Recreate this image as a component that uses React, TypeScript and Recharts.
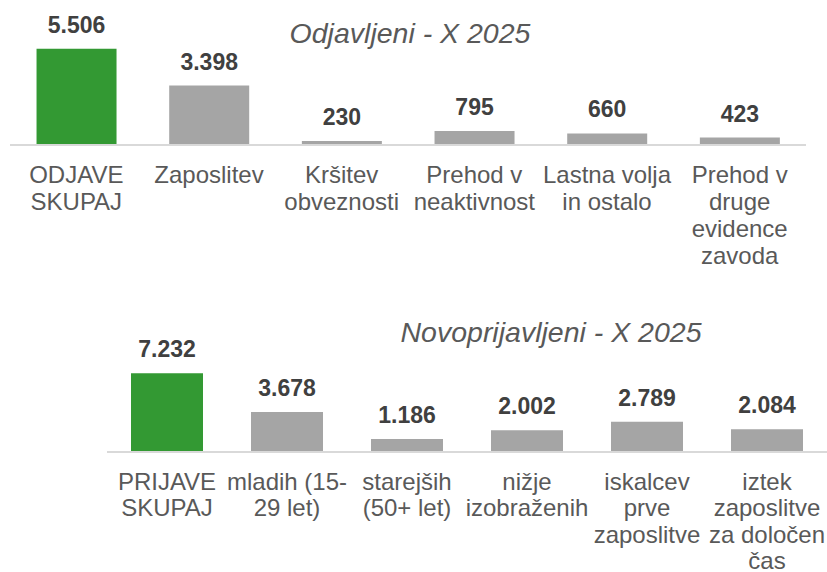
import React from 'react'
import { BarChart, Bar, XAxis, YAxis, Cell, LabelList } from 'recharts'

const odjaveCategories = [
  'ODJAVE\nSKUPAJ',
  'Zaposlitev',
  'Kršitev\nobveznosti',
  'Prehod v\nneaktivnost',
  'Lastna volja\nin ostalo',
  'Prehod v\ndruge\nevidence\nzavoda',
]
const odjaveValues = [5506, 3398, 230, 795, 660, 423]

const prijaveCategories = [
  'PRIJAVE\nSKUPAJ',
  'mladih (15-\n29 let)',
  'starejših\n(50+ let)',
  'nižje\nizobraženih',
  'iskalcev\nprve\nzaposlitve',
  'iztek\nzaposlitve\nza določen\nčas',
]
const prijaveValues = [7232, 3678, 1186, 2002, 2789, 2084]

const FONT = '"Liberation Sans", Arial, sans-serif'
const GREEN = '#339933'
const GRAY = '#A5A5A5'

const fmt = (v: any) => String(v).replace(/\B(?=(\d{3})+(?!\d))/g, '.')

function CategoryTick(props: any) {
  const { x, y, payload, first = 38, step = 27 } = props
  const lines = String(payload.value).split('\n')
  return (
    <text x={x} y={y} textAnchor="middle" fill="#595959" fontSize={24} fontFamily={FONT}>
      {lines.map((l, i) => (
        <tspan key={i} x={x} dy={i === 0 ? first : step}>
          {l}
        </tspan>
      ))}
    </text>
  )
}

function Panel({ cats, vals, max, width, height, margin, axisHeight, first, step }: any) {
  const data = cats.map((c: string, i: number) => ({ name: c, value: vals[i] }))
  return (
    <BarChart width={width} height={height} data={data} margin={margin} barCategoryGap="20%">
      <XAxis
        dataKey="name"
        interval={0}
        height={axisHeight}
        tickSize={0}
        tickMargin={0}
        tickLine={false}
        axisLine={{ stroke: '#D9D9D9', strokeWidth: 2 }}
        tick={<CategoryTick first={first} step={step} />}
      />
      <YAxis hide domain={[0, max]} />
      <Bar dataKey="value" isAnimationActive={false}>
        {data.map((_: any, i: number) => (
          <Cell key={i} fill={i === 0 ? GREEN : GRAY} />
        ))}
        <LabelList
          dataKey="value"
          position="top"
          offset={16}
          formatter={fmt}
          fill="#404040"
          fontSize={23}
          fontWeight="bold"
          fontFamily={FONT}
        />
      </Bar>
    </BarChart>
  )
}

export default function App() {
  return (
    <div style={{ position: 'absolute', left: 0, top: 0, width: 827, height: 572, background: '#fff' }}>
      <div style={{ position: 'absolute', left: 0, top: 0 }}>
        <Panel
          cats={odjaveCategories}
          vals={odjaveValues}
          max={6000}
          width={827}
          height={290}
          margin={{ top: 40, right: 21, left: 10, bottom: 0 }}
          axisHeight={145}
          first={38}
          step={27}
        />
      </div>
      <div style={{ position: 'absolute', left: 0, top: 290 }}>
        <Panel
          cats={prijaveCategories}
          vals={prijaveValues}
          max={8000}
          width={827}
          height={282}
          margin={{ top: 75, right: 0, left: 107, bottom: 0 }}
          axisHeight={120}
          first={37.5}
          step={26.5}
        />
      </div>
      <svg width={827} height={572} style={{ position: 'absolute', left: 0, top: 0, pointerEvents: 'none' }}>
        <text x={410} y={42.5} textAnchor="middle" fontSize={28.5} fontStyle="italic" fill="#595959" fontFamily={FONT}>
          Odjavljeni - X 2025
        </text>
        <text x={551} y={341.5} textAnchor="middle" fontSize={28.5} fontStyle="italic" fill="#595959" fontFamily={FONT}>
          Novoprijavljeni - X 2025
        </text>
      </svg>
    </div>
  )
}
